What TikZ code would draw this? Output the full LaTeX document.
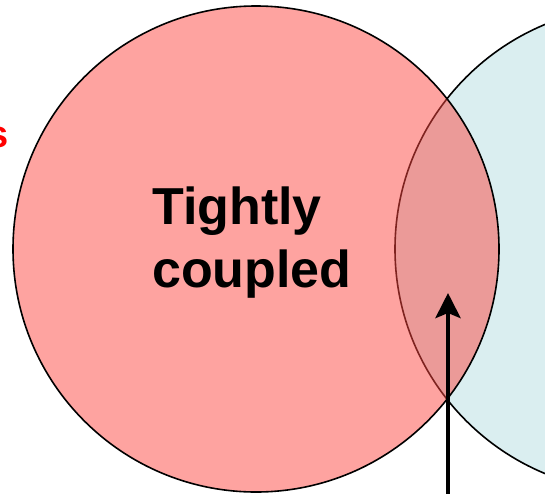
\documentclass[tikz,border=0pt]{standalone}
\usepackage{fontspec}
\setmainfont{Liberation Sans}
\usetikzlibrary{arrows.meta}
\definecolor{redfill}{RGB}{253,71,65}
\definecolor{bluefill}{RGB}{218,238,240}
\tikzset{
  venn/.style={circle, draw=black, line width=1.6pt, minimum size=486pt, inner sep=0pt},
  bigtext/.style={font=\bfseries\fontsize{52}{63}\selectfont, align=left, inner sep=0pt},
  arrowline/.style={line width=4.5pt, -{Stealth[length=25pt,width=25pt,inset=5pt]}}
}
\begin{document}
\begin{tikzpicture}[x=1pt,y=-1pt]
\useasboundingbox (0,0) rectangle (545,493);
\node[venn, fill=bluefill] (blue) at (638,249) {};
\node[venn, fill=redfill, fill opacity=0.5] (red) at (256,249) {};
\node[bigtext, anchor=base west] (label) at (152,287) {Tightly\\coupled};
\node[text=red, font=\bfseries\fontsize{38}{45}\selectfont, anchor=base east, inner sep=0pt] (side) at (8.5,147) {s};
\coordinate (abot) at (448,500);
\coordinate (atop) at (448,293);
\draw[arrowline] (abot) -- (atop);
\end{tikzpicture}
\end{document}
